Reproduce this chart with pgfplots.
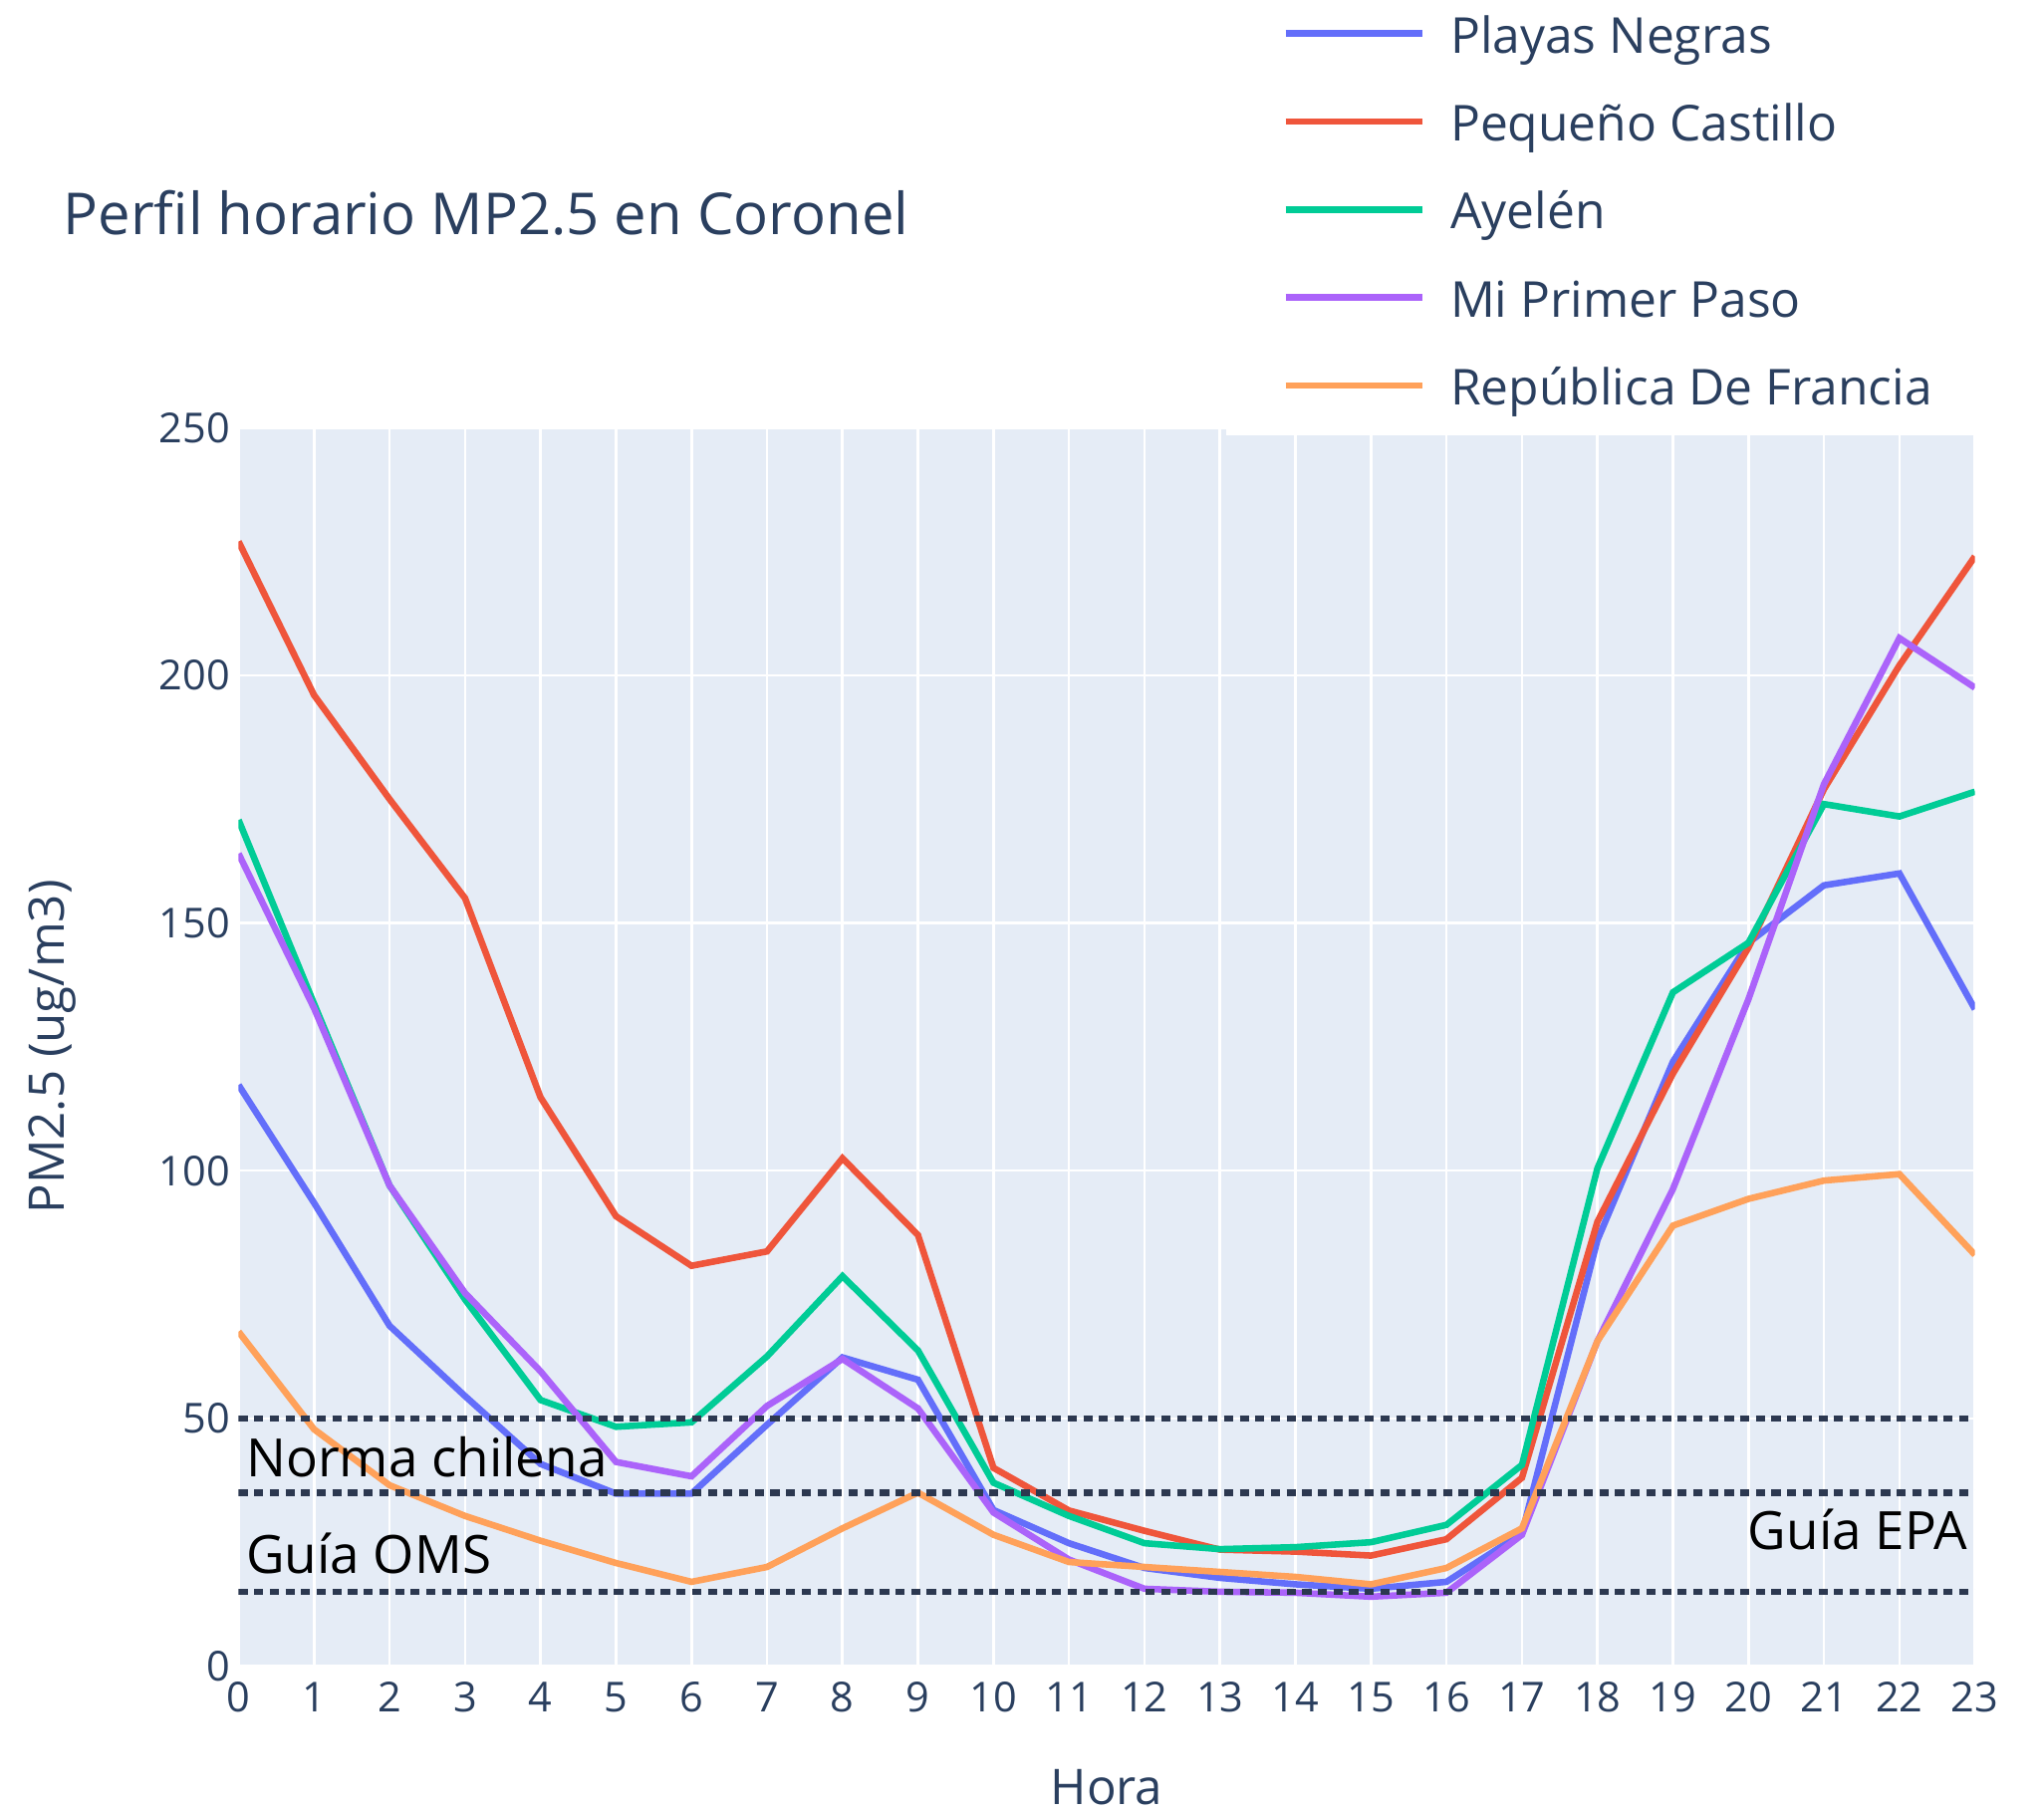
\documentclass[border=0pt]{standalone}
\usepackage{pgfplots}
\pgfplotsset{compat=1.18}
\usepackage{fontspec}
\setmainfont{Open Sans}
\definecolor{pblue}{HTML}{636EFA}
\definecolor{pred}{HTML}{EF553B}
\definecolor{pgreen}{HTML}{00CC96}
\definecolor{ppurple}{HTML}{AB63FA}
\definecolor{porange}{HTML}{FFA15A}
\definecolor{bgc}{HTML}{E5ECF6}
\definecolor{txt}{HTML}{2A3F5F}
\definecolor{dotc}{HTML}{2C3850}
\begin{document}
\begin{tikzpicture}
\path[use as bounding box] (-54.9bp,-33.9bp) rectangle (415.5bp,383.4bp);
\begin{axis}[
  at={(0,0)}, anchor=south west,
  scale only axis, width=399.6bp, height=285bp,
  xmin=0, xmax=23, ymin=0, ymax=250,
  xtick={0,...,23}, ytick={0,50,...,250},
  axis background/.style={fill=bgc},
  grid=major, major grid style={white, line width=0.6bp},
  axis line style={draw=none}, tick style={draw=none},
  ticklabel style={font=\fontsize{9.5bp}{11bp}\selectfont, text=txt, inner sep=0pt},
  /pgf/number format/assume math mode=true,
  xticklabel style={anchor=base, yshift=-10.5bp},
  yticklabel style={anchor=east, xshift=-1.8bp},
  xlabel={Hora}, ylabel={PM2.5 (ug/m3)},
  label style={font=\fontsize{11.3bp}{13bp}\selectfont, text=txt},
  xlabel style={at={(axis description cs:0.5,-0.112)}, anchor=base},
  ylabel style={at={(axis description cs:-0.1075,0.5)}, anchor=center},
  title={Perfil horario MP2.5 en Coronel},
  title style={at={(axis description cs:-0.1014,1.1347)}, anchor=base west,
    font=\fontsize{13.3bp}{15bp}\selectfont, text=txt, inner sep=0pt},
  legend cell align=left,
  legend image code/.code={\draw[#1] (0bp,0bp) -- (31.5bp,0bp);},
  legend style={at={(axis description cs:0.5683,1.3590)}, anchor=north west,
    fill=white, draw=none, inner xsep=12.9bp, inner ysep=1.3bp,
    font=\fontsize{11.4bp}{13bp}\selectfont, text=txt,
    row sep=0pt, column sep=5.7bp,
    nodes={inner sep=0pt, text height=14.6bp, text depth=5.65bp}},
]
\addplot[pblue, line width=1.5bp] coordinates {
 (0,117.3) (1,93.5) (2,68.7) (3,54.5) (4,40.8) (5,34.8) (6,34.8) (7,48.7)
 (8,62.3) (9,57.8) (10,31.5) (11,24.8) (12,19.8) (13,17.8) (14,16.5) (15,15.6)
 (16,17) (17,26.8) (18,86) (19,122) (20,146) (21,157.6) (22,160) (23,132.6)};
\addlegendentry{Playas Negras}
\addplot[pred, line width=1.5bp] coordinates {
 (0,227) (1,196) (2,175) (3,155) (4,114.8) (5,90.8) (6,80.8) (7,83.7)
 (8,102.5) (9,87) (10,40) (11,31.4) (12,27.3) (13,23.5) (14,23.1) (15,22.3)
 (16,25.6) (17,38) (18,89.7) (19,119.6) (20,145) (21,177) (22,202) (23,224)};
\addlegendentry{Pequeño Castillo}
\addplot[pgreen, line width=1.5bp] coordinates {
 (0,170.8) (1,133.7) (2,97) (3,74) (4,53.7) (5,48.3) (6,49.2) (7,62.5)
 (8,78.7) (9,63.7) (10,37) (11,30.3) (12,24.8) (13,23.6) (14,24) (15,25)
 (16,28.5) (17,40.6) (18,100.5) (19,136) (20,146) (21,174) (22,171.5) (23,176.5)};
\addlegendentry{Ayelén}
\addplot[ppurple, line width=1.5bp] coordinates {
 (0,164) (1,132.8) (2,97) (3,75.3) (4,59.5) (5,41.2) (6,38.3) (7,52.5)
 (8,62) (9,52) (10,31) (11,21.5) (12,15.6) (13,15) (14,14.8) (15,14)
 (16,14.8) (17,26.5) (18,65.6) (19,96.3) (20,134.6) (21,178) (22,207.5) (23,197.5)};
\addlegendentry{Mi Primer Paso}
\addplot[porange, line width=1.5bp] coordinates {
 (0,67.5) (1,47.8) (2,36.5) (3,30.3) (4,25.3) (5,20.8) (6,17) (7,20)
 (8,27.8) (9,35) (10,26.5) (11,21) (12,20) (13,19) (14,18) (15,16.5)
 (16,19.8) (17,27.8) (18,65.6) (19,88.9) (20,94.3) (21,98) (22,99.3) (23,83)};
\addlegendentry{República De Francia}
\addplot[dotc, line width=1.5bp, dash pattern=on 2.1bp off 1.5bp, forget plot] coordinates {(0,50) (23,50)};
\addplot[dotc, line width=1.5bp, dash pattern=on 2.1bp off 1.5bp, forget plot] coordinates {(0,35) (23,35)};
\addplot[dotc, line width=1.5bp, dash pattern=on 2.1bp off 1.5bp, forget plot] coordinates {(0,15) (23,15)};
\node[anchor=base west, inner sep=0pt, font=\fontsize{12.15bp}{14bp}\selectfont] at (axis cs:0.09,38.2) {Norma chilena};
\node[anchor=base west, inner sep=0pt, font=\fontsize{12.15bp}{14bp}\selectfont] at (axis cs:0.09,18.7) {Guía OMS};
\node[anchor=base east, inner sep=0pt, font=\fontsize{12.15bp}{14bp}\selectfont] at (axis cs:22.91,23.6) {Guía EPA};
\end{axis}
\end{tikzpicture}
\end{document}
